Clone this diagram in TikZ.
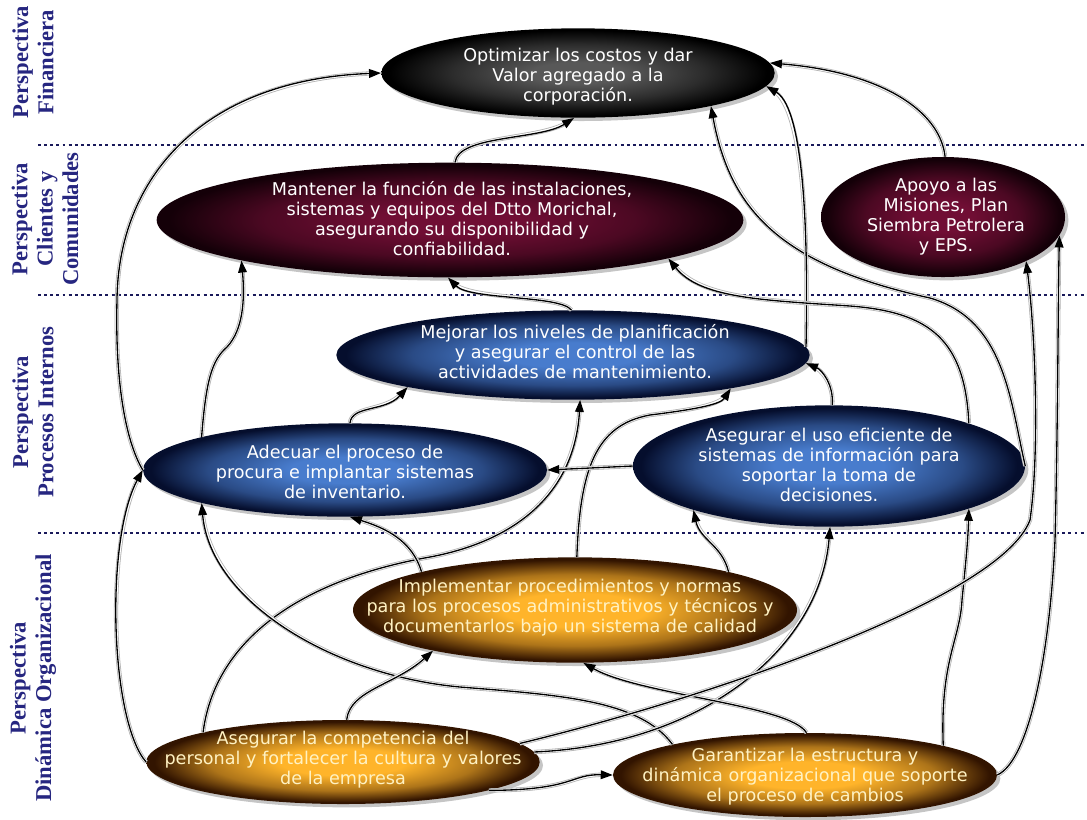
\documentclass[tikz,border=0pt]{standalone}
\usepackage{fontspec}
\setmainfont{DejaVu Sans}
\newfontfamily\persfont{Liberation Serif}
\usetikzlibrary{shapes,arrows.meta,shadows}

\definecolor{finIn}{RGB}{88,88,88}
\definecolor{finOut}{RGB}{0,0,0}
\definecolor{wineIn}{RGB}{112,14,52}
\definecolor{wineOut}{RGB}{20,0,8}
\definecolor{blueIn}{RGB}{72,124,205}
\definecolor{blueOut}{RGB}{5,14,45}
\definecolor{amberIn}{RGB}{255,180,42}
\definecolor{amberOut}{RGB}{50,20,0}
\definecolor{cream}{RGB}{255,242,195}
\definecolor{persblue}{RGB}{38,38,128}
\definecolor{tierblue}{RGB}{25,25,90}

\pgfdeclareradialshading{blackglow}{\pgfpoint{0bp}{0bp}}{color(0bp)=(finIn); color(6bp)=(finIn); color(16bp)=(finIn!50!finOut); color(24bp)=(finOut); color(50bp)=(finOut)}
\pgfdeclareradialshading{wineglow}{\pgfpoint{0bp}{0bp}}{color(0bp)=(wineIn); color(6bp)=(wineIn); color(16bp)=(wineIn!60!wineOut); color(24bp)=(wineOut); color(50bp)=(wineOut)}
\pgfdeclareradialshading{blueglow}{\pgfpoint{0bp}{0bp}}{color(0bp)=(blueIn); color(7bp)=(blueIn); color(17bp)=(blueIn!55!blueOut); color(24bp)=(blueOut); color(50bp)=(blueOut)}
\pgfdeclareradialshading{amberglow}{\pgfpoint{0bp}{0bp}}{color(0bp)=(amberIn); color(8bp)=(amberIn); color(17bp)=(amberIn!60!amberOut); color(24bp)=(amberOut); color(50bp)=(amberOut)}

\tikzset{
  goal/.style={ellipse, inner sep=0pt,
    drop shadow={opacity=0.45, shadow xshift=2.5pt, shadow yshift=-2.5pt}},
  gtext/.style={align=center, inner sep=0pt, text=white,
    font=\fontsize{13.2}{15}\selectfont},
  otext/.style={gtext, text=cream},
  pers/.style={rotate=90, align=center, text=persblue,
    font=\persfont\bfseries\fontsize{17}{19}\selectfont},
  tierline/.style={draw=tierblue, line width=2.2pt, dash pattern=on 2.2pt off 2.4pt},
  link/.style={->, line width=1pt,
    preaction={draw=gray!60, line width=3.2pt, -, shorten >=6pt},
    preaction={draw=white, line width=2pt, -, shorten >=6pt}}
}

\begin{document}
\begin{tikzpicture}[x=0.75pt, y=-0.75pt, >={Triangle[length=9pt,width=6.5pt]}]
\fill[white] (0,0) rectangle (1087,819);
\useasboundingbox (0,0) rectangle (1087,819);

% perspectives
\node[pers] (pfin) at (33,62) {Perspectiva\\Financiera};
\node[pers] (pcli) at (45,219) {Perspectiva\\Clientes y\\Comunidades};
\node[pers] (ppro) at (33,412) {Perspectiva\\Procesos Internos};
\node[pers] (pdin) at (33,678) {Perspectiva\\Dinámica Organizacional};
\draw[tierline] (38,145) -- (1087,145);
\draw[tierline] (38,295) -- (1087,295);
\draw[tierline] (38,533) -- (1087,533);

% goals
\node[goal, shading=blackglow, minimum width=295pt, minimum height=67pt] (fin) at (578,73) {};
\node[gtext] (fintxt) at (578,77) {Optimizar los costos y dar\\Valor agregado a la\\corporación.};
\node[goal, shading=wineglow, minimum width=440pt, minimum height=86pt] (man) at (450,220) {};
\node[gtext] (mantxt) at (452,219) {Mantener la función de las instalaciones,\\sistemas y equipos del Dtto Morichal,\\asegurando su disponibilidad y\\confiabilidad.};
\node[goal, shading=wineglow, minimum width=183pt, minimum height=90pt] (apo) at (943,217) {};
\node[gtext] (apotxt) at (946,217) {Apoyo a las\\Misiones, Plan\\Siembra Petrolera\\y EPS.};
\node[goal, shading=blueglow, minimum width=355pt, minimum height=67pt] (mej) at (573,355) {};
\node[gtext] (mejtxt) at (575,352) {Mejorar los niveles de planificación\\y asegurar el control de las\\actividades de mantenimiento.};
\node[goal, shading=blueglow, minimum width=303pt, minimum height=70pt] (ade) at (345,470) {};
\node[gtext] (adetxt) at (345,472) {Adecuar el proceso de\\procura e implantar sistemas\\de inventario.};
\node[goal, shading=blueglow, minimum width=294pt, minimum height=91pt] (sis) at (829,466) {};
\node[gtext] (sistxt) at (829,465) {Asegurar el uso eficiente de\\sistemas de información para\\soportar la toma de\\decisiones.};
\node[goal, shading=amberglow, minimum width=333pt, minimum height=79pt] (imp) at (575,610) {};
\node[otext] (imptxt) at (570,608) {Implementar procedimientos y normas\\para los procesos administrativos y técnicos y\\documentarlos bajo un sistema de calidad};
\node[goal, shading=amberglow, minimum width=295pt, minimum height=63pt] (com) at (343,762) {};
\node[otext] (comtxt) at (343,760) {Asegurar la competencia del\\personal y fortalecer la cultura y valores\\de la empresa};
\node[goal, shading=amberglow, minimum width=288pt, minimum height=63pt] (gar) at (805,775) {};
\node[otext] (gartxt) at (805,777) {Garantizar la estructura y\\dinámica organizacional que soporte\\el proceso de cambios};

% into the financial goal
\draw[link] (ade.west) .. controls (125,440) and (115,380) .. (117,300) .. controls (118,180) and (200,80) .. (fin.west);
\draw[link] (man.85) .. controls (458,135) and (540,140) .. (fin.265);
\draw[link] (sis.east) .. controls (1010,400) and (1005,320) .. (930,298) .. controls (780,265) and (730,210) .. (fin.-14);
\draw[link] (mej.2) .. controls (808,250) and (806,110) .. (fin.-4);
\draw[link] (apo.88) .. controls (940,110) and (880,72) .. (fin.3);

% into the clients goal
\draw[link] (ade.167) .. controls (206,380) and (212,360) .. (227,347) .. controls (243,330) and (245,300) .. (man.191);
\draw[link] (mej.92) .. controls (560,295) and (470,300) .. (man.268);
\draw[link] (sis.17) .. controls (965,340) and (930,312) .. (850,306) .. controls (760,300) and (700,298) .. (man.-10);

% internal processes
\draw[link] (sis.87) .. controls (834,385) and (822,370) .. (mej.-2);
\draw[link] (ade.84) .. controls (352,405) and (385,412) .. (mej.191);
\draw[link] (imp.88) .. controls (580,470) and (595,425) .. (650,415) .. controls (690,410) and (720,405) .. (mej.-12);
\draw[link] (com.168) .. controls (215,640) and (300,580) .. (430,557) .. controls (520,540) and (575,490) .. (mej.279);
\draw[link] (com.west) .. controls (110,720) and (105,540) .. (ade.west);
\draw[link] (sis.west) -- (ade.east);
\draw[link] (imp.166) .. controls (412,540) and (385,528) .. (ade.276);
\draw[link] (gar.167) .. controls (640,700) and (560,695) .. (460,687) .. controls (330,675) and (210,600) .. (ade.193);
\draw[link] (imp.14) .. controls (722,545) and (700,540) .. (sis.198);
\draw[link] (com.3) .. controls (700,745) and (820,650) .. (sis.271);
\draw[link] (gar.12) .. controls (940,660) and (960,640) .. (962,600) .. controls (966,560) and (968,540) .. (sis.-17);

% organizational dynamics
\draw[link] (com.85) .. controls (350,690) and (395,685) .. (imp.196);
\draw[link] (gar.88) .. controls (790,705) and (640,695) .. (imp.279);
\draw[link] (com.-11) .. controls (575,790) and (570,774) .. (gar.west);

% support to missions
\draw[link] (com.6) .. controls (700,700) and (1000,600) .. (1030,520) .. controls (1040,450) and (1035,330) .. (apo.-28);
\draw[link] (gar.east) .. controls (1030,760) and (1050,650) .. (1055,540) .. controls (1058,420) and (1058,300) .. (apo.-9);
\end{tikzpicture}
\end{document}
